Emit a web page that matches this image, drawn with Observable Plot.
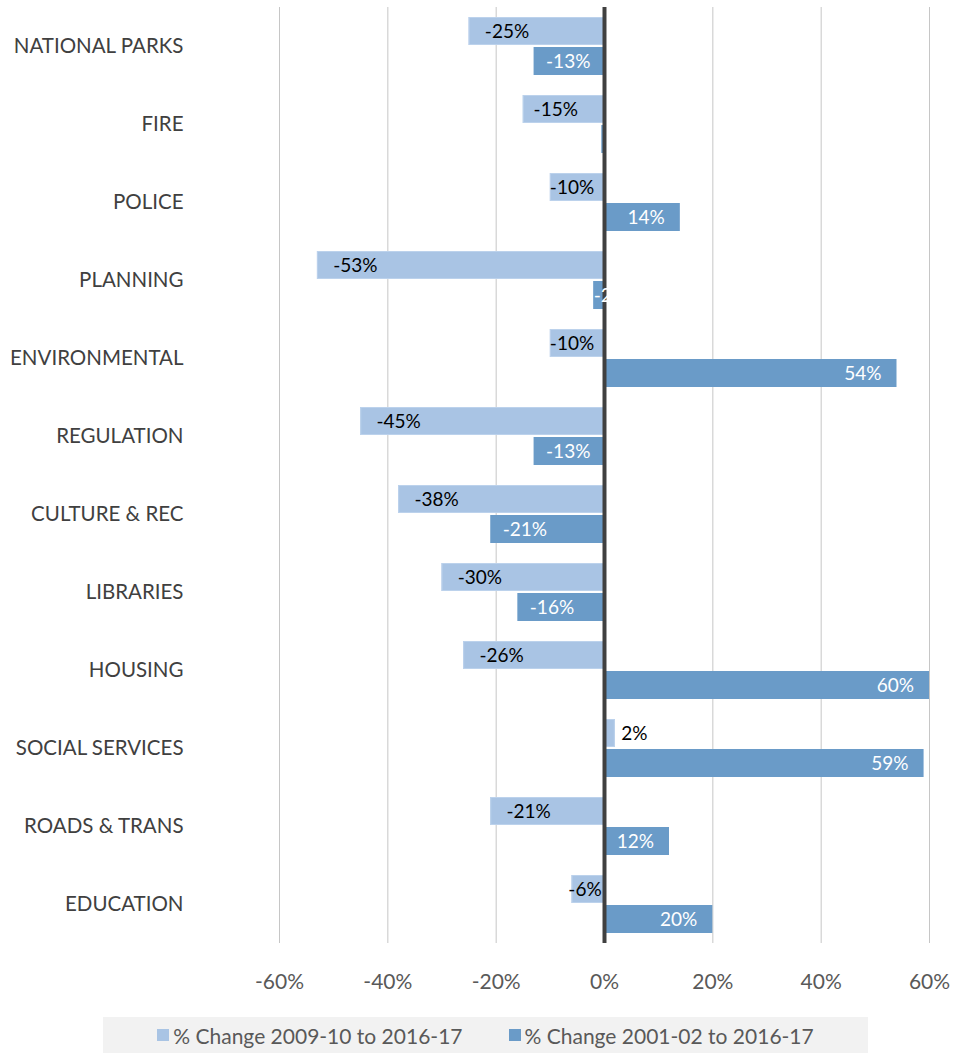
<!DOCTYPE html>
<html>
<head>
<meta charset="utf-8">
<script src="https://cdn.jsdelivr.net/npm/d3@7"></script>
<script src="https://cdn.jsdelivr.net/npm/@observablehq/plot@0.6"></script>
<style>
  body { margin: 0; background: #fff; font-family: Lato, "Open Sans", sans-serif; }
  #chart { width: 953px; }
  #legend {
    position: absolute; left: 103px; top: 1017px; width: 765px; height: 36px;
    background: #f2f2f2; display: flex; align-items: center; justify-content: center;
    font-size: 21px; color: #595959; gap: 46px;
  }
  #legend .item { display: flex; align-items: center; }
  #legend .sw { width: 12px; height: 12px; margin-right: 4px; display: inline-block; }
</style>
</head>
<body>
<div id="chart"></div>
<div id="legend"></div>
<script>
const categories = ["NATIONAL PARKS","FIRE","POLICE","PLANNING","ENVIRONMENTAL","REGULATION","CULTURE & REC","LIBRARIES","HOUSING","SOCIAL SERVICES","ROADS & TRANS","EDUCATION"];
const change0910 = [-25,-15,-10,-53,-10,-45,-38,-30,-26,2,-21,-6];
const change0117 = [-13,-0.5,14,-2,54,-13,-21,-16,60,59,12,20];
const seriesNames = ["% Change 2009-10 to 2016-17","% Change 2001-02 to 2016-17"];
const seriesColors = ["#a9c4e4","#6a9bc8"];
const xTicks = [-60,-40,-20,0,20,40,60];

const rows = [];
categories.forEach((c, i) => {
  rows.push({category: c, series: seriesNames[0], value: change0910[i]});
  rows.push({category: c, series: seriesNames[1], value: change0117[i]});
});
const light = rows.filter(d => d.series === seriesNames[0]);
const dark = rows.filter(d => d.series === seriesNames[1]);
const fmt = d => `${Math.round(d.value)}%`;

const chart = Plot.plot({
  width: 953,
  height: 1010,
  marginLeft: 279,
  marginRight: 24,
  marginTop: 5,
  marginBottom: 65,
  style: {fontFamily: "Lato, 'Open Sans', sans-serif", background: "#fff"},
  x: {domain: [-60, 60]},
  fy: {domain: categories, padding: 0, label: null},
  y: {domain: seriesNames, axis: null, paddingInner: 0.07, paddingOuter: 0.32},
  color: {domain: seriesNames, range: seriesColors},
  marks: [
    Plot.gridX(xTicks.filter(t => t !== 0), {stroke: "#c6c6c6", strokeOpacity: 1, strokeWidth: 1}),
    Plot.barX(rows, {x: "value", y: "series", fy: "category", fill: "series"}),
    Plot.barX(light, {x: "value", y: "series", fy: "category", fill: "none", stroke: "#bcd2ec", strokeWidth: 1, inset: 0.5}),
    Plot.text(light.filter(d => d.value < 0), {
      x: d => Math.min(d.value + 7, d.value * 0.6), y: "series", fy: "category",
      text: fmt, fill: "#000", fontSize: 19
    }),
    Plot.text(light.filter(d => d.value >= 0), {
      x: "value", y: "series", fy: "category", text: fmt, fill: "#000",
      fontSize: 19, textAnchor: "start", dx: 6
    }),
    Plot.text(dark.filter(d => d.value <= -8), {
      x: d => d.value + 6.3, y: "series", fy: "category", text: fmt, fill: "#fff", fontSize: 19
    }),
    Plot.text(dark.filter(d => d.value > 0), {
      x: d => d.value - 6.3, y: "series", fy: "category", text: fmt, fill: "#fff", fontSize: 19
    }),
    Plot.ruleX([0], {stroke: "#404040", strokeWidth: 4}),
    Plot.text(dark.filter(d => d.value > -8 && d.value <= -1), {
      x: "value", y: "series", fy: "category", text: fmt, fill: "#fff",
      fontSize: 19, textAnchor: "start", dx: 0
    }),
    Plot.axisX({ticks: xTicks, tickSize: 0, tickPadding: 31, tickFormat: d => `${d}%`,
      fontSize: 21, fill: "#595959", label: null}),
    Plot.axisFy({anchor: "left", tickSize: 0, tickPadding: 96, fontSize: 20.5,
      fill: "#404040", label: null})
  ]
});
document.getElementById("chart").appendChild(chart);

const legend = document.getElementById("legend");
seriesNames.forEach((name, i) => {
  const item = document.createElement("div");
  item.className = "item";
  const sw = document.createElement("span");
  sw.className = "sw";
  sw.style.background = seriesColors[i];
  const label = document.createElement("span");
  label.textContent = name;
  item.appendChild(sw);
  item.appendChild(label);
  legend.appendChild(item);
});
</script>
</body>
</html>
